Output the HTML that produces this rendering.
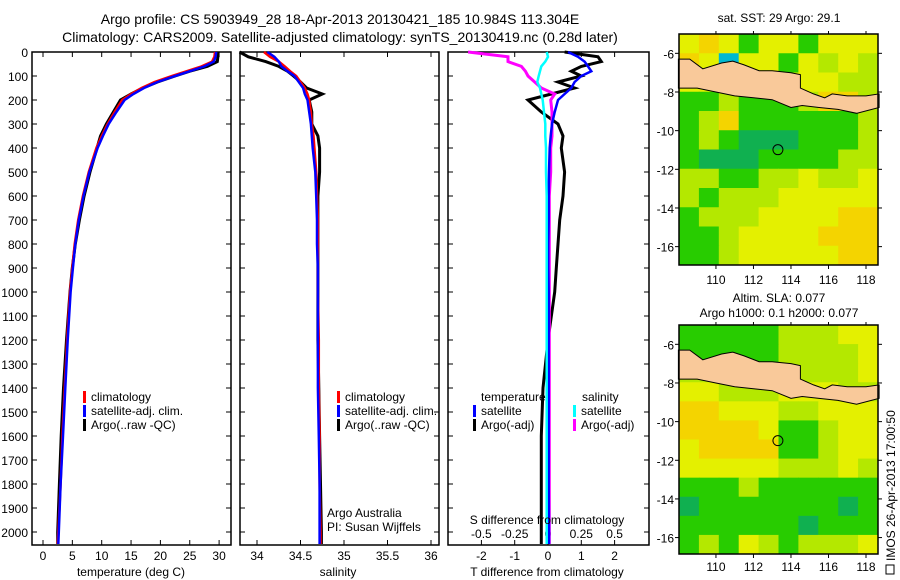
<!DOCTYPE html>
<html><head><meta charset="utf-8"><style>
body{margin:0;background:#fff}
svg{display:block;font-family:"Liberation Sans",sans-serif}
text{fill:#000}
</style></head><body>
<svg id="s" width="900" height="580" viewBox="0 0 900 580">
<text x="340" y="24" font-size="14" text-anchor="middle">Argo profile: CS 5903949_28 18-Apr-2013 20130421_185 10.984S 113.304E</text>
<text x="340" y="42" font-size="14" text-anchor="middle">Climatology: CARS2009. Satellite-adjusted climatology: synTS_20130419.nc (0.28d later)</text>
<text x="779" y="22" font-size="12" text-anchor="middle">sat. SST: 29 Argo: 29.1</text>
<text x="779" y="302" font-size="12" text-anchor="middle">Altim. SLA: 0.077</text>
<text x="779" y="317" font-size="12" text-anchor="middle">Argo h1000: 0.1 h2000: 0.077</text>
<rect x="886" y="565" width="8" height="9" fill="none" stroke="#000" stroke-width="1"/>
<text transform="translate(895,561) rotate(-90)" font-size="12">IMOS 26-Apr-2013 17:00:50</text>
</svg>
<script>
// ---- data ----
const depth = [0,20,40,60,80,100,125,150,175,200,250,300,350,400,500,600,700,800,900,1000,1200,1400,1600,1800,2000,2050];
const tempClim = [29.3,29.2,28.8,27,24.5,22,19,16.8,15,13.5,12.2,11,10,9.1,7.8,6.8,6,5.4,5,4.6,4.1,3.7,3.3,3,2.6,2.5];
const tempSat = [29.5,29.4,29.1,27.5,25,22.5,19.5,17.2,15.4,13.9,12.5,11.2,10.2,9.3,7.9,6.9,6.1,5.5,5.1,4.7,4.2,3.8,3.4,3.0,2.7,2.6];
const tempArgo = [29.8,29.8,29.7,28,25,22.5,19.5,17,15,13.2,12,10.8,9.8,9.2,8,7,6.2,5.5,5,4.6,4,3.5,3.1,2.8,2.5,2.5];
const salClim = [34.08,34.15,34.25,34.32,34.38,34.45,34.5,34.55,34.58,34.6,34.62,34.63,34.65,34.66,34.68,34.69,34.7,34.7,34.7,34.7,34.71,34.71,34.72,34.72,34.73,34.73];
const salSat = [34.12,34.2,34.25,34.28,34.35,34.43,34.48,34.53,34.55,34.58,34.6,34.62,34.63,34.64,34.67,34.68,34.69,34.69,34.7,34.7,34.7,34.7,34.71,34.72,34.72,34.72];
const salArgo = [33.8,33.9,34.1,34.25,34.35,34.42,34.5,34.57,34.75,34.6,34.63,34.63,34.7,34.72,34.72,34.7,34.7,34.7,34.7,34.7,34.7,34.71,34.72,34.73,34.74,34.74];
const tDiffSat = [0.6,0.9,1.1,1.2,1.3,1.0,0.8,0.7,0.5,0.3,0.2,0.12,0.08,0.05,0.03,0.02,0.02,0.01,0.01,0.02,0.02,0.02,0.02,0.02,0.03,0.03];
const tDiffArgo = [0.5,1.5,1.6,1.0,0.7,1.0,0.3,0.8,0.1,-0.6,-0.2,0.3,0.45,0.4,0.5,0.45,0.35,0.3,0.25,0.2,0.0,-0.15,-0.2,-0.2,-0.2,-0.2];
const sDiffSat = [-0.01,0,-0.02,-0.05,-0.06,-0.07,-0.08,-0.06,-0.05,-0.04,-0.03,-0.02,-0.02,-0.015,-0.015,-0.01,-0.01,-0.01,-0.01,-0.01,-0.01,-0.01,-0.01,-0.01,-0.01,-0.01];
const sDiffArgo = [-0.6,-0.3,-0.3,-0.2,-0.17,-0.15,-0.1,-0.05,0.05,0.02,0.03,0.03,0.03,0.02,0.02,0.01,0.01,0.01,0.01,0.01,0.01,0.01,0.01,0.01,0.01,0.01];
const depthTicks = [0,100,200,300,400,500,600,700,800,900,1000,1100,1200,1300,1400,1500,1600,1700,1800,1900,2000];
const tempTicks = [0,5,10,15,20,25,30];
const salTicks = [34,34.5,35,35.5,36];
const tDiffTicks = [-2,-1,0,1,2];
const sDiffTicks = [-0.5,-0.25,0,0.25,0.5];
const lonTicks = [110,112,114,116,118];
const latTicks = [-6,-8,-10,-12,-14,-16];
const argoLon = 113.304, argoLat = -10.984;
const sstGrid = ["YOYGYYGYYY","OYBYYGYLYL","YYYYYYYYLL","GGLGGGLOOL","GLOGGGGGGL","GLGTTTGGGL","GTTTGGGGLL","LLGGLLYLLY","LGLLLYYYYY","GLLLYYYYOO","GGLYYYYOOO","GGLYYYYYOO"];
const slaGrid = ["GGGGGLLLYY","GGGGGLLLLY","LLLLLLLLLY","YYLLLYYYLL","OOYYYLLYYY","OOOOYGGLYY","YOOOOGGLYY","YYYYYLLLYL","GGGLGGGGGG","TGGGGGGGTG","GGGGGGTGGG","GLGYLGLLLY"];

const NS="http://www.w3.org/2000/svg", svg=document.getElementById('s');
function el(tag,attrs,parent){const e=document.createElementNS(NS,tag);for(const k in attrs)e.setAttribute(k,attrs[k]);(parent||svg).appendChild(e);return e;}
function txt(x,y,s,size,anchor){const t=el('text',{x:x,y:y,'font-size':size||12,'text-anchor':anchor||'start'});t.textContent=s;return t;}

const yTop=52,yBot=545;
const yD=d=>52+d*0.24;
function panel(x0,x1,name){const r=el('rect',{x:x0,y:yTop,width:x1-x0,height:yBot-yTop,fill:'none',stroke:'#000','stroke-width':1.5});

}
function line(vals,xf,color,name,w){let d='';vals.forEach((v,i)=>{d+=(i?'L':'M')+xf(v).toFixed(1)+' '+yD(depth[i]).toFixed(1);});
const p=el('path',{d:d,fill:'none',stroke:color,'stroke-width':w||2.5,'stroke-linejoin':'miter'});

}
function xTicks(ticks,xf,ty,fmt){ticks.forEach(t=>{const x=xf(t);el('line',{x1:x,y1:yBot,x2:x,y2:yBot-5,stroke:'#000'});el('line',{x1:x,y1:yTop,x2:x,y2:yTop+5,stroke:'#000'});
const l=txt(x,ty,fmt?fmt(t):String(t),12,'middle');

});}
function legendRow(x,y,color,s){el('rect',{x:x,y:y-10,width:3,height:12,fill:color});const t=txt(x+8,y,s,12);

}

// panel 1 temperature
const xT=t=>43+t*5.87;
panel(32,231,'temperature-panel');
depthTicks.forEach(d=>{const y=yD(d);el('line',{x1:32,y1:y,x2:37,y2:y,stroke:'#000'});el('line',{x1:231,y1:y,x2:226,y2:y,stroke:'#000'});
const l=txt(28,y+5,String(d),12,'end');

});
xTicks(tempTicks,xT,560);
line(tempArgo,xT,'#000','temp-argo-line',3);
line(tempClim,xT,'#f00','temp-clim-line');
line(tempSat,xT,'#00f','temp-sat-line');
legendRow(83,401,'#f00','climatology');legendRow(83,415,'#00f','satellite-adj. clim.');legendRow(83,429,'#000','Argo(..raw -QC)');
let at=txt(131,576,'temperature (deg C)',12,'middle');

// panel 2 salinity
const xS=s=>257+(s-34)*87;
panel(240,439,'salinity-panel');
depthTicks.forEach(d=>{const y=yD(d);el('line',{x1:240,y1:y,x2:245,y2:y,stroke:'#000'});el('line',{x1:439,y1:y,x2:434,y2:y,stroke:'#000'});});
xTicks(salTicks,xS,560);
line(salArgo,xS,'#000','sal-argo-line',3);
line(salClim,xS,'#f00','sal-clim-line');
line(salSat,xS,'#00f','sal-sat-line');
legendRow(337,401,'#f00','climatology');legendRow(337,415,'#00f','satellite-adj. clim.');legendRow(337,429,'#000','Argo(..raw -QC)');
txt(327,517,'Argo Australia',12);txt(327,531,'PI: Susan Wijffels',12);
at=txt(338,576,'salinity',12,'middle');

// panel 3 differences
const xTD=t=>548+t*33.3, xSD=s=>548+s*133.2;
panel(448,649,'difference-panel');
depthTicks.forEach(d=>{const y=yD(d);el('line',{x1:448,y1:y,x2:453,y2:y,stroke:'#000'});el('line',{x1:649,y1:y,x2:644,y2:y,stroke:'#000'});});
xTicks(tDiffTicks,xTD,560);
sDiffTicks.forEach(t=>{const l=txt(xSD(t),538,String(t),12,'middle');});
line(tDiffArgo,xTD,'#000','tdiff-argo-line',3);
line(sDiffArgo,xSD,'#f0f','sdiff-argo-line',3);
line(tDiffSat,xTD,'#00f','tdiff-sat-line');
line(sDiffSat,xSD,'#0ff','sdiff-sat-line');
txt(481,401,'temperature',12);legendRow(473,415,'#00f','satellite');legendRow(473,429,'#000','Argo(-adj)');
txt(582,401,'salinity',12);legendRow(573,415,'#0ff','satellite');legendRow(573,429,'#f0f','Argo(-adj)');
txt(547,524,'S difference from climatology',12,'middle');
at=txt(547,576,'T difference from climatology',12,'middle');

// maps
const colors={Y:'#e4f000',O:'#f4d400',L:'#b4e800',G:'#28cc00',T:'#10b050',B:'#00b8d0'};
const land=[[108,-6.3],[108.6,-6.3],[109.3,-6.8],[110.3,-6.5],[110.9,-6.4],[111.5,-6.6],[112.3,-6.9],[113,-6.9],[114,-7.0],[114.5,-7.1],[114.5,-7.8],[115.2,-8.1],[115.8,-8.3],[116.2,-8.1],[117,-8.2],[118,-8.2],[118.7,-8.1],[118.7,-8.8],[117.5,-9.1],[116.5,-8.9],[115.5,-8.8],[114.6,-8.7],[114,-8.8],[113,-8.4],[112,-8.3],[111,-8.2],[110,-8.0],[109,-7.8],[108,-7.8]];
function map(top,bot,latTop,latBot,grid,name,lonLabelY){
  const L=679,R=878,lon0=108.03,lon1=118.64;
  const X=lo=>L+(lo-lon0)/(lon1-lon0)*(R-L), Y=la=>top+(latTop-la)/(latTop-latBot)*(bot-top);
  const g=el('g',{});
  const rows=grid.length,cols=grid[0].length,cw=(R-L)/cols,ch=(bot-top)/rows;
  grid.forEach((row,r)=>{for(let c=0;c<cols;c++){const cell=el('rect',{x:L+c*cw,y:top+r*ch,width:cw+0.5,height:ch+0.5,fill:colors[row[c]]},g);
    
    }});
  el('polygon',{points:land.map(p=>X(p[0]).toFixed(1)+','+Math.min(bot,Math.max(top,Y(p[1]))).toFixed(1)).join(' '),fill:'#f9c99a',stroke:'#000','stroke-width':1},g);
  const m=el('circle',{cx:X(argoLon),cy:Y(argoLat),r:5,fill:'none',stroke:'#000','stroke-width':1},g);
  
  el('rect',{x:L,y:top,width:R-L,height:bot-top,fill:'none',stroke:'#000','stroke-width':1.5},g);
  latTicks.forEach(la=>{const y=Y(la);el('line',{x1:L,y1:y,x2:L-4,y2:y,stroke:'#000'},g);el('line',{x1:R,y1:y,x2:R+4,y2:y,stroke:'#000'},g);
    const l=txt(L-5,y+5,String(la),12,'end');});
  lonTicks.forEach(lo=>{const x=X(lo);el('line',{x1:x,y1:bot,x2:x,y2:bot+4,stroke:'#000'},g);el('line',{x1:x,y1:top,x2:x,y2:top-3,stroke:'#000'},g);
    const l=txt(x,lonLabelY,String(lo),12,'middle');});
}
map(34,265,-5.0,-16.95,sstGrid,'sst-map',284);
map(325,554,-5.0,-16.85,slaGrid,'sla-map',571);
</script>
</body></html>
